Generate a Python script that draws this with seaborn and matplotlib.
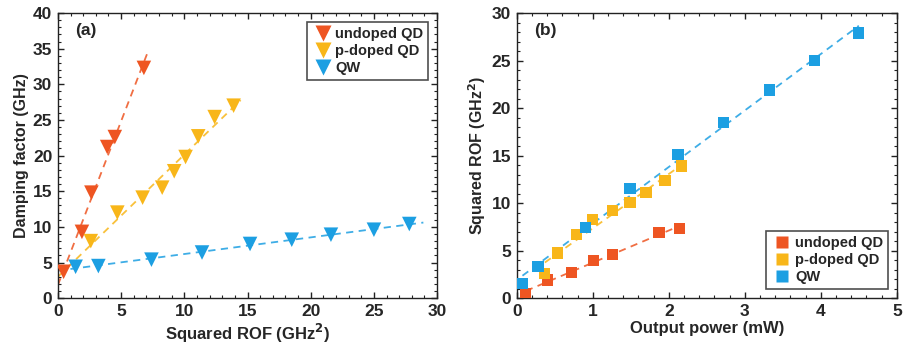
import numpy as np
import pandas as pd
import matplotlib
matplotlib.use("Agg")
import matplotlib.pyplot as plt
from matplotlib.ticker import MultipleLocator
import seaborn as sns

# ---- data: panel (a) damping factor vs squared ROF ----
a_undoped_x = [0.45, 1.9, 2.65, 3.9, 4.5, 6.8]
a_undoped_y = [3.7, 9.3, 14.8, 21.2, 22.6, 32.3]
a_pdoped_x = [2.6, 4.7, 6.7, 8.25, 9.2, 10.1, 11.1, 12.4, 13.9]
a_pdoped_y = [8.0, 12.0, 14.1, 15.5, 17.8, 19.8, 22.7, 25.4, 27.0]
a_qw_x = [1.4, 3.2, 7.4, 11.4, 15.2, 18.5, 21.6, 25.0, 27.8]
a_qw_y = [4.4, 4.5, 5.4, 6.4, 7.6, 8.2, 8.9, 9.6, 10.4]

# ---- data: panel (b) squared ROF vs output power ----
b_undoped_x = [0.12, 0.40, 0.72, 1.01, 1.26, 1.87, 2.14]
b_undoped_y = [0.5, 1.9, 2.7, 4.0, 4.6, 6.9, 7.3]
b_pdoped_x = [0.37, 0.54, 0.79, 1.00, 1.26, 1.49, 1.70, 1.95, 2.17]
b_pdoped_y = [2.6, 4.75, 6.7, 8.3, 9.25, 10.1, 11.1, 12.4, 13.9]
b_qw_x = [0.075, 0.28, 0.90, 1.49, 2.12, 2.72, 3.32, 3.92, 4.50]
b_qw_y = [1.5, 3.3, 7.4, 11.5, 15.1, 18.5, 21.9, 25.0, 27.9]

labels = ["undoped QD", "p-doped QD", "QW"]
colors = ["#EE5522", "#F8B619", "#1C9FE2"]

sns.set_theme(style="ticks")
plt.rcParams["font.family"] = ["Liberation Sans", "DejaVu Sans"]
plt.rcParams["font.weight"] = "bold"

def frame(xs, ys):
    rows = []
    for lab, x, y in zip(labels, xs, ys):
        for xi, yi in zip(x, y):
            rows.append({"x": xi, "y": yi, "sample": lab})
    return pd.DataFrame(rows)

df_a = frame([a_undoped_x, a_pdoped_x, a_qw_x], [a_undoped_y, a_pdoped_y, a_qw_y])
df_b = frame([b_undoped_x, b_pdoped_x, b_qw_x], [b_undoped_y, b_pdoped_y, b_qw_y])

fig = plt.figure(figsize=(9.05, 3.52), dpi=100)
ax1 = fig.add_axes([0.064, 0.153, 0.419, 0.810])
ax2 = fig.add_axes([0.571, 0.153, 0.420, 0.810])

palette = dict(zip(labels, colors))

def style_axes(ax, xmax, ymax, xmaj, xmin, ymaj, ymin):
    ax.set_xlim(0, xmax)
    ax.set_ylim(0, ymax)
    ax.xaxis.set_major_locator(MultipleLocator(xmaj))
    ax.xaxis.set_minor_locator(MultipleLocator(xmin))
    ax.yaxis.set_major_locator(MultipleLocator(ymaj))
    ax.yaxis.set_minor_locator(MultipleLocator(ymin))
    ax.tick_params(which="both", direction="in", top=True, right=True, color="#222222")
    ax.tick_params(which="major", length=4, width=1, labelsize=12.5, pad=4)
    ax.tick_params(which="minor", length=2, width=0.8)
    for s in ax.spines.values():
        s.set_color("#222222")
        s.set_linewidth(1.0)
    for lab in ax.get_xticklabels() + ax.get_yticklabels():
        lab.set_fontweight("bold")

def style_legend(leg):
    leg.get_frame().set_edgecolor("#222222")
    leg.get_frame().set_linewidth(1.2)
    for t in leg.get_texts():
        t.set_fontweight("bold")

# panel (a)
for lab, x, y, c in zip(labels, [a_undoped_x, a_pdoped_x, a_qw_x],
                        [a_undoped_y, a_pdoped_y, a_qw_y], colors):
    k, b = np.polyfit(x, y, 1)
    xx = np.array([0, max(x) * 1.04])
    ax1.plot(xx, k * xx + b, ls=(0, (4, 3)), color=c, lw=1.3, alpha=0.85, zorder=1)
sns.scatterplot(data=df_a, x="x", y="y", hue="sample", palette=palette, marker="v",
                s=110, edgecolor="none", ax=ax1, zorder=3)
style_axes(ax1, 30, 40, 5, 1, 5, 1)
ax1.set_xlabel("Squared ROF (GHz$^\\mathbf{2}$)", fontsize=12, fontweight="bold", labelpad=2)
ax1.set_ylabel("Damping factor (GHz)", fontsize=11.5, fontweight="bold", labelpad=3)
ax1.text(0.045, 0.94, "(a)", transform=ax1.transAxes, fontsize=12.5, fontweight="bold", va="center")
leg1 = ax1.legend(loc="upper right", frameon=True, fancybox=False, fontsize=10.5,
                  handletextpad=0.1, borderpad=0.35, labelspacing=0.2, handlelength=1.5,
                  borderaxespad=0.6, markerscale=1.15)
style_legend(leg1)

# panel (b)
for lab, x, y, c in zip(labels, [b_undoped_x, b_pdoped_x, b_qw_x],
                        [b_undoped_y, b_pdoped_y, b_qw_y], colors):
    k, b = np.polyfit(x, y, 1)
    xx = np.array([min(x), max(x)])
    ax2.plot(xx, k * xx + b, ls=(0, (4, 3)), color=c, lw=1.3, alpha=0.85, zorder=1)
sns.scatterplot(data=df_b, x="x", y="y", hue="sample", palette=palette, marker="s",
                s=65, edgecolor="none", ax=ax2, zorder=3)
style_axes(ax2, 5, 30, 1, 0.2, 5, 1)
ax2.set_xlabel("Output power (mW)", fontsize=12, fontweight="bold", labelpad=2)
ax2.set_ylabel("Squared ROF (GHz$^\\mathbf{2}$)", fontsize=11.5, fontweight="bold", labelpad=3)
ax2.text(0.045, 0.94, "(b)", transform=ax2.transAxes, fontsize=12.5, fontweight="bold", va="center")
leg2 = ax2.legend(loc="lower right", frameon=True, fancybox=False, fontsize=10.5,
                  handletextpad=0.1, borderpad=0.35, labelspacing=0.2, handlelength=1.5,
                  borderaxespad=0.6, markerscale=1.15)
style_legend(leg2)

fig.savefig("out.png", dpi=100)
